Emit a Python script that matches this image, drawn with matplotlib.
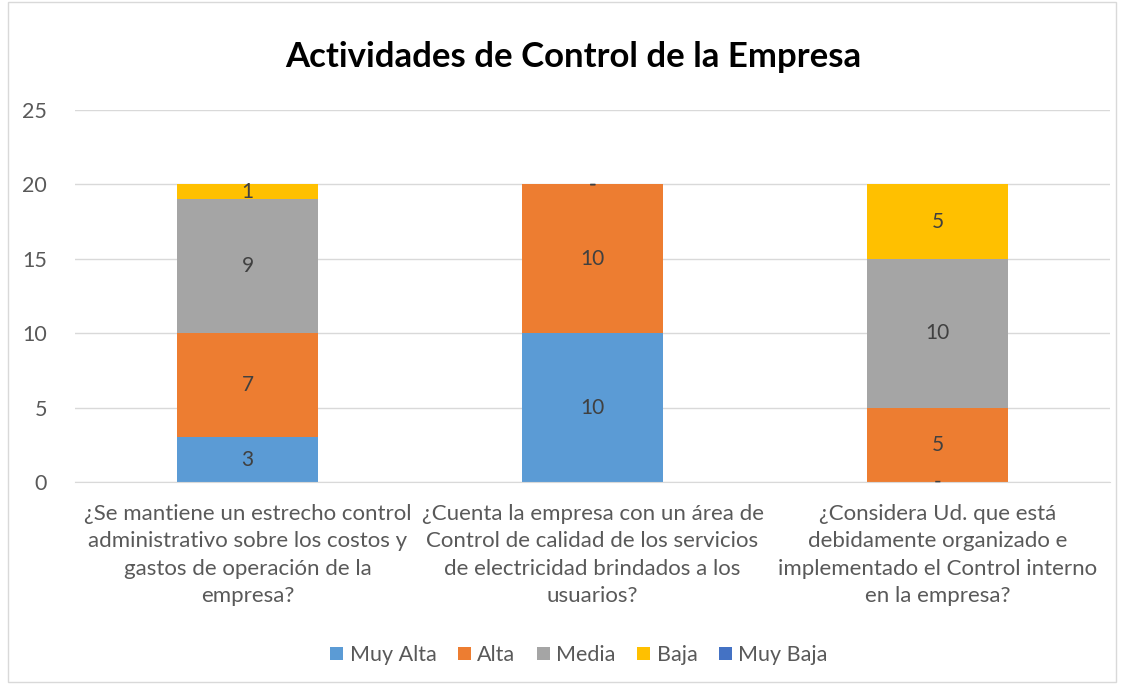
import numpy as np
import matplotlib.pyplot as plt
from matplotlib.patches import Rectangle

plt.rcParams.update({
    'font.family': ['Lato', 'DejaVu Sans'],
})

# Data
categories = ['¿Se mantiene un estrecho control\nadministrativo sobre los costos y\ngastos de operación de la\nempresa?',
              '¿Cuenta la empresa con un área de\nControl de calidad de los servicios\nde electricidad brindados a los\nusuarios?',
              '¿Considera Ud. que está\ndebidamente organizado e\nimplementado el Control interno\nen la empresa?']
series = ['Muy Alta', 'Alta', 'Media', 'Baja', 'Muy Baja']
muy_alta = [3, 10, 0]
alta = [7, 10, 5]
media = [9, 0, 10]
baja = [1, 0, 5]
muy_baja = [None, None, None]
colors = ['#5B9BD5', '#ED7D31', '#A5A5A5', '#FFC000', '#4472C4']

fig = plt.figure(figsize=(11.24, 6.84), dpi=100)
ax = fig.add_axes([75/1124, 1-482/684, 1035/1124, 372/684])

x = np.arange(len(categories))
bottom = np.zeros(len(categories))
for name, vals, c in zip(series, [muy_alta, alta, media, baja, muy_baja], colors):
    v = np.array([0 if a is None else a for a in vals], dtype=float)
    ax.bar(x, v, 0.406, bottom=bottom, color=c, label=name, zorder=2)
    for i, a in enumerate(vals):
        if a is None:
            continue
        lab = str(a) if a != 0 else '-'
        ax.text(x[i], bottom[i] + v[i]/2, lab, ha='center', va='center',
                fontsize=15, color='#404040', zorder=3)
    bottom += v

ax.set_xlim(-0.5, 2.5)
ax.set_ylim(0, 25)
ax.set_yticks(range(0, 26, 5))
ax.yaxis.grid(True, color='#D9D9D9', lw=1)
ax.set_axisbelow(True)
for s in ['top', 'right', 'left']:
    ax.spines[s].set_visible(False)
ax.spines['bottom'].set_color('#D9D9D9')
ax.tick_params(axis='y', length=0, labelsize=15.5, labelcolor='#595959', pad=20)
ax.tick_params(axis='x', length=0, labelsize=16, labelcolor='#595959', pad=16)
ax.set_xticks(x)
ax.set_xticklabels(categories, linespacing=1.45)

fig.suptitle('Actividades de Control de la Empresa', x=0.51, y=1-57/684, va='center',
             fontsize=25, fontweight='bold', color='black')

fig.legend(loc='center', bbox_to_anchor=(579/1124, 1-655/684), ncol=5, frameon=False,
           fontsize=15.5, labelcolor='#595959', handlelength=0.6, handleheight=0.6,
           handletextpad=0.3, columnspacing=1.0)

fig.patches.append(Rectangle((8/1124, 0.003), 1-16/1124, 0.994, transform=fig.transFigure,
                             fill=False, edgecolor='#D9D9D9', lw=1))

fig.savefig('out.png', dpi=100)
